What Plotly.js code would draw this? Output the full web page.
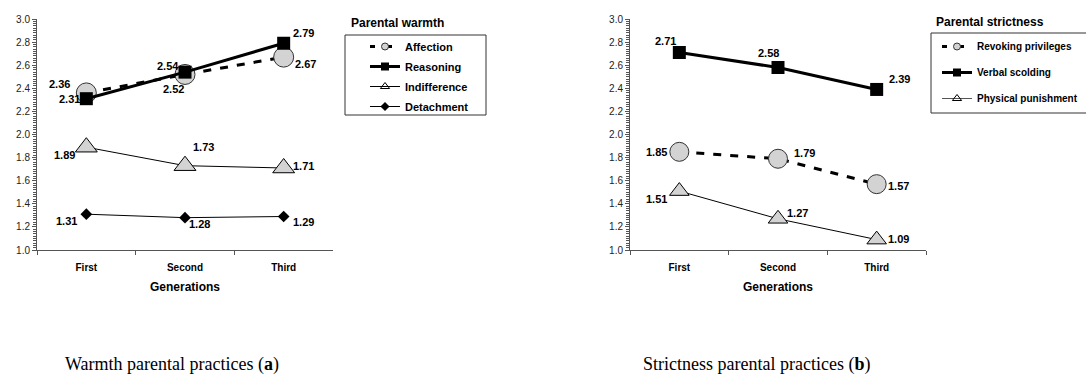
<!DOCTYPE html>
<html>
<head>
<meta charset="utf-8">
<script src="https://cdn.plot.ly/plotly-3.0.1.min.js"></script>
<style>html,body{margin:0;padding:0;background:#fff;}#chart{width:1086px;height:387px;}</style>
</head>
<body>
<div id="chart"></div>
<script>
// ---- data ----
const generations = ['First', 'Second', 'Third'];
// Panel (a): parental warmth
const affection = [2.36, 2.52, 2.67];
const reasoning = [2.31, 2.54, 2.79];
const indifference = [1.89, 1.73, 1.71];
const detachment = [1.31, 1.28, 1.29];
// Panel (b): parental strictness
const revokingPrivileges = [1.85, 1.79, 1.57];
const verbalScolding = [2.71, 2.58, 2.39];
const physicalPunishment = [1.51, 1.27, 1.09];
const yTicks = [1.0, 1.2, 1.4, 1.6, 1.8, 2.0, 2.2, 2.4, 2.6, 2.8, 3.0];

// ---- label offsets (px) ----
const offA = {
  affection: [[-27, 9], [-12, -15], [22, -7]],
  reasoning: [[-17, 0], [-17, 6], [20, 10]],
  indifference: [[-22, -8], [18, 19], [20, 2]],
  detachment: [[-20, -7], [14, -6], [20, -5]]
};
const offB = {
  revoking: [[-23, 0], [26, 6], [22, -2]],
  verbal: [[-14, 12], [-10, 15], [23, 10]],
  physical: [[-23, -8], [19, 6], [22, 1]]
};

const W = 1086, H = 387;
const px = v => v / W, py = v => 1 - v / H;
const LG = '#d3d3d3';
const SANS = 'Arial, Liberation Sans, sans-serif';

function lineTrace(y, xa, ya, opts) {
  return Object.assign({
    type: 'scatter', mode: 'lines+markers', x: generations, y: y,
    xaxis: xa, yaxis: ya, showlegend: false, hoverinfo: 'skip', cliponaxis: false
  }, opts);
}
function legendTrace(name, legend, group, line, marker) {
  return {
    type: 'scatter', mode: 'lines+markers', x: [null], y: [null],
    xaxis: legend === 'legend' ? 'x' : 'x2', yaxis: legend === 'legend' ? 'y' : 'y2',
    name: name, legend: legend, legendgroup: group, showlegend: true,
    line: line, marker: marker, hoverinfo: 'skip'
  };
}

const circleM = s => ({symbol: 'circle', size: s, color: LG, line: {color: '#333', width: 1}});
const squareM = s => ({symbol: 'square', size: s, color: '#000', line: {color: '#000', width: 0}});
const triM = s => ({symbol: 'triangle-up', size: s, color: LG, line: {color: '#000', width: 1}});
const diaM = s => ({symbol: 'diamond', size: s, color: '#000', line: {color: '#000', width: 0}});

const dashL = {color: '#000', width: 3, dash: '8px,9px'};
const thickL = {color: '#000', width: 3};
const thinL = {color: '#000', width: 1};

const traces = [
  lineTrace(affection, 'x', 'y', {line: dashL, marker: circleM(20)}),
  lineTrace(reasoning, 'x', 'y', {line: thickL, marker: squareM(13)}),
  lineTrace(indifference, 'x', 'y', {line: thinL, marker: triM(19)}),
  lineTrace(detachment, 'x', 'y', {line: thinL, marker: diaM(9)}),
  lineTrace(revokingPrivileges, 'x2', 'y2', {line: dashL, marker: circleM(19)}),
  lineTrace(verbalScolding, 'x2', 'y2', {line: thickL, marker: squareM(13)}),
  lineTrace(physicalPunishment, 'x2', 'y2', {line: thinL, marker: triM(17)}),
  legendTrace('Affection', 'legend', 'a1', {color: '#000', width: 3, dash: '5px,12px'}, circleM(7)),
  legendTrace('Reasoning', 'legend', 'a2', thickL, squareM(8)),
  legendTrace('Indifference', 'legend', 'a3', thinL, {symbol: 'triangle-up-open', size: 8, color: '#000', line: {width: 1}}),
  legendTrace('Detachment', 'legend', 'a4', thinL, diaM(7)),
  legendTrace('Revoking privileges', 'legend2', 'b1', {color: '#000', width: 3, dash: '5px,12px'}, circleM(7)),
  legendTrace('Verbal scolding', 'legend2', 'b2', thickL, squareM(8)),
  legendTrace('Physical punishment', 'legend2', 'b3', {color: '#555', width: 1}, {symbol: 'triangle-up-open', size: 8, color: '#000', line: {width: 1}})
];

const annotations = [];
function addLabels(vals, offs, xa, ya) {
  vals.forEach((v, i) => {
    annotations.push({
      x: generations[i], y: v, xref: xa, yref: ya, text: '<b>' + v.toFixed(2) + '</b>',
      showarrow: false, xshift: offs[i][0], yshift: offs[i][1],
      font: {family: SANS, size: 11, color: '#000'}
    });
  });
}
addLabels(affection, offA.affection, 'x', 'y');
addLabels(reasoning, offA.reasoning, 'x', 'y');
addLabels(indifference, offA.indifference, 'x', 'y');
addLabels(detachment, offA.detachment, 'x', 'y');
addLabels(revokingPrivileges, offB.revoking, 'x2', 'y2');
addLabels(verbalScolding, offB.verbal, 'x2', 'y2');
addLabels(physicalPunishment, offB.physical, 'x2', 'y2');

// legend titles
annotations.push({xref: 'paper', yref: 'paper', x: px(349), y: py(23), xanchor: 'left', yanchor: 'middle',
  text: '<b>Parental warmth</b>', showarrow: false, font: {family: SANS, size: 12, color: '#000'}});
annotations.push({xref: 'paper', yref: 'paper', x: px(934), y: py(22), xanchor: 'left', yanchor: 'middle',
  text: '<b>Parental strictness</b>', showarrow: false, font: {family: SANS, size: 12, color: '#000'}});
// captions
annotations.push({xref: 'paper', yref: 'paper', x: px(172), y: py(364), xanchor: 'center', yanchor: 'middle',
  text: 'Warmth parental practices (<b>a</b>)', showarrow: false, font: {family: 'Liberation Serif, serif', size: 18, color: '#000'}});
annotations.push({xref: 'paper', yref: 'paper', x: px(756), y: py(364), xanchor: 'center', yanchor: 'middle',
  text: 'Strictness parental practices (<b>b</b>)', showarrow: false, font: {family: 'Liberation Serif, serif', size: 18, color: '#000'}});

const xaxisBase = {
  type: 'category', categoryorder: 'array', categoryarray: generations, range: [-0.5, 2.5],
  showline: true, linecolor: '#555', linewidth: 1, ticks: 'outside', tickson: 'boundaries',
  ticklen: 4, tickcolor: '#555', showgrid: false, zeroline: false, fixedrange: true,
  ticklabelstandoff: 8,
  tickfont: {family: SANS, size: 10, color: '#000', weight: 'bold'},
  title: {text: '<b>Generations</b>', font: {family: SANS, size: 12, color: '#000'}, standoff: 10}
};
const yaxisBase = {
  range: [1, 3], tickvals: yTicks, ticktext: yTicks.map(v => v.toFixed(1)),
  showline: true, linecolor: '#555', linewidth: 1, ticks: 'outside', ticklen: 4, tickcolor: '#555',
  minor: {dtick: 0.02, ticks: 'outside', ticklen: 3, tickcolor: '#555', showgrid: false},
  showgrid: false, zeroline: false, fixedrange: true,
  tickfont: {family: SANS, size: 10, color: '#222'}
};

const layout = {
  width: W, height: H,
  margin: {l: 0, r: 0, t: 0, b: 0, autoexpand: false},
  paper_bgcolor: '#fff', plot_bgcolor: '#fff',
  showlegend: true,
  xaxis: Object.assign({}, xaxisBase, {domain: [px(37), px(333)], anchor: 'y'}),
  yaxis: Object.assign({}, yaxisBase, {domain: [1 - 250 / H, 1 - 19 / H], anchor: 'x'}),
  xaxis2: Object.assign({}, xaxisBase, {domain: [px(630), px(926)], anchor: 'y2'}),
  yaxis2: Object.assign({}, yaxisBase, {domain: [1 - 250 / H, 1 - 19 / H], anchor: 'x2'}),
  legend: {x: px(365), y: py(32), xanchor: 'left', yanchor: 'top', bgcolor: 'rgba(0,0,0,0)', borderwidth: 0,
    traceorder: 'grouped', tracegroupgap: 1, itemclick: false, itemdoubleclick: false,
    font: {family: SANS, size: 11, color: '#000', weight: 'bold'}},
  legend2: {x: px(937), y: py(32), xanchor: 'left', yanchor: 'top', bgcolor: 'rgba(0,0,0,0)', borderwidth: 0,
    traceorder: 'grouped', tracegroupgap: 7, itemclick: false, itemdoubleclick: false,
    font: {family: SANS, size: 10, color: '#000', weight: 'bold'}},
  shapes: [
    {type: 'rect', xref: 'paper', yref: 'paper', x0: px(345), x1: px(486), y0: py(115), y1: py(35), line: {color: '#333', width: 1}},
    {type: 'rect', xref: 'paper', yref: 'paper', x0: px(931), x1: px(1100), y0: py(113), y1: py(33), line: {color: '#333', width: 1}}
  ],
  annotations: annotations
};

Plotly.newPlot('chart', traces, layout, {staticPlot: true, displayModeBar: false});
</script>
</body>
</html>
